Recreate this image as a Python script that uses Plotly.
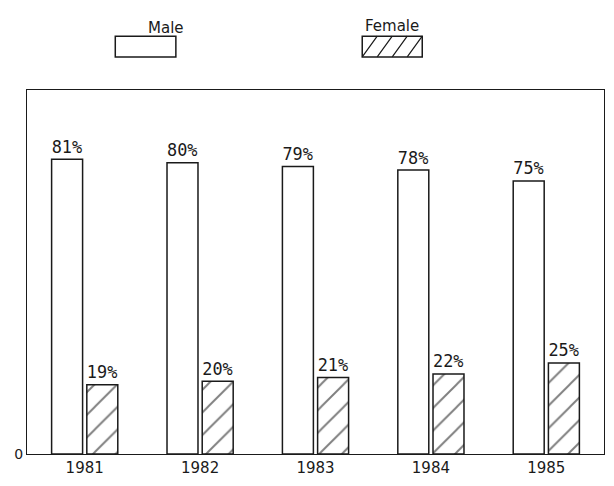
import plotly.graph_objects as go

years = ["1981", "1982", "1983", "1984", "1985"]
male = [81, 80, 79, 78, 75]
female = [19, 20, 21, 22, 25]

INK = "#1a1a1a"

fig = go.Figure()
fig.add_trace(
    go.Bar(
        x=years,
        y=male,
        name="Male",
        marker=dict(color="white", line=dict(color=INK, width=1.5)),
        text=[f"{v}%" for v in male],
        textposition="outside",
        textfont=dict(family="DejaVu Sans Mono", size=19, color=INK),
        cliponaxis=False,
        showlegend=False,
    )
)
fig.add_trace(
    go.Bar(
        x=years,
        y=female,
        name="Female",
        marker=dict(
            color="white",
            line=dict(color=INK, width=1.5),
            pattern=dict(shape="/", fgcolor="black", bgcolor="white", size=16, solidity=0.12),
        ),
        text=[f"{v}%" for v in female],
        textposition="outside",
        textfont=dict(family="DejaVu Sans Mono", size=19, color=INK),
        cliponaxis=False,
        showlegend=False,
    )
)

# legend drawn above the frame: label on top, swatch underneath
fig.add_annotation(x=0.206, y=1.2, xref="paper", yref="paper", text="Male",
                   showarrow=False, font=dict(family="DejaVu Sans", size=15, color=INK))
fig.add_annotation(x=0.632, y=1.205, xref="paper", yref="paper", text="Female",
                   showarrow=False, font=dict(family="DejaVu Sans", size=15, color=INK))
fig.add_shape(type="rect", xref="paper", yref="paper", x0=0.153, x1=0.258, y0=1.091, y1=1.148,
              line=dict(color=INK, width=1.5), fillcolor="white")
fig.add_shape(type="rect", xref="paper", yref="paper", x0=0.581, x1=0.685, y0=1.091, y1=1.148,
              line=dict(color=INK, width=1.5), fillcolor="white")
fig.add_shape(
    type="path", xref="paper", yref="paper",
    path="M 0.581 1.091 L 0.607 1.148 M 0.607 1.091 L 0.633 1.148 M 0.633 1.091 L 0.659 1.148 M 0.659 1.091 L 0.685 1.148",
    line=dict(color=INK, width=1.2),
)

# the page body adds an 8px margin, so the figure is shrunk and shifted to compensate
fig.update_layout(
    width=598,
    height=470,
    barmode="group",
    bargap=0.39,
    bargroupgap=0.12,
    plot_bgcolor="white",
    paper_bgcolor="white",
    margin=dict(t=82, b=24, l=19, r=2, autoexpand=False),
    font=dict(family="DejaVu Sans", size=15, color=INK),
)
fig.update_xaxes(
    showline=True, linecolor=INK, linewidth=1.2, mirror=True, automargin=False,
    ticks="", tickfont=dict(size=15),
)
fig.update_yaxes(
    range=[0, 100], tickvals=[0], ticktext=["0"], showgrid=False, zeroline=False,
    showline=True, linecolor=INK, linewidth=1.2, mirror=True, automargin=False,
    ticks="", tickfont=dict(size=14),
)

fig.write_html("out.html")
